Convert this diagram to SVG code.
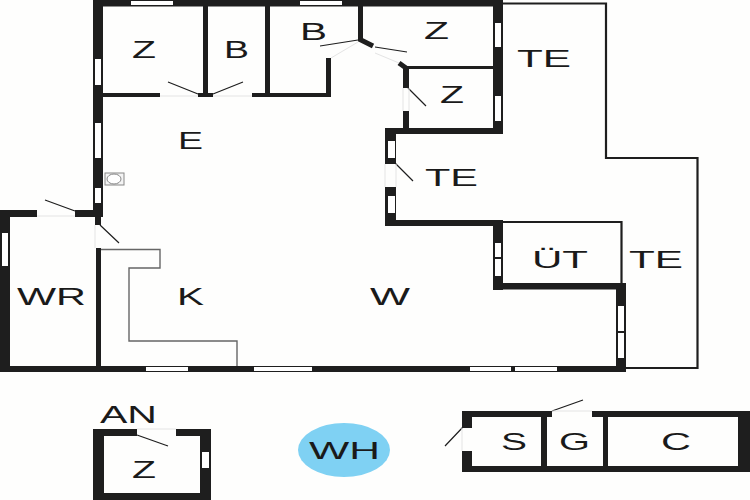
<svg xmlns="http://www.w3.org/2000/svg" width="750" height="500" viewBox="0 0 750 500">
<style>
.w{fill:#1e1e1e}
.g{fill:#fff}
.d{fill:#fdfdfc}
.t{fill:none;stroke:#1e1e1e;stroke-width:2.200}
.c{fill:none;stroke:#666;stroke-width:1.400}
.s{fill:none;stroke:#1e1e1e;stroke-width:1.200}
.p{fill:none;stroke:#e4e4e4;stroke-width:1}
text{font-family:"Liberation Sans",Arial,sans-serif;font-size:24px;fill:#1a1a1a}
</style>
<rect width="750" height="500" fill="#fefefd"/>
<!-- terraces -->
<path class="t" d="M503 3.500H606V158H697.500V368H626"/>
<path class="t" d="M503 222H621.500V283"/>
<!-- main walls -->
<g>
<rect class="w" x="93" y="0" width="410" height="6.500"/>
<rect class="w" x="93" y="0" width="10" height="217"/>
<rect class="w" x="203" y="6" width="5" height="90"/>
<rect class="w" x="265" y="6" width="5" height="90"/>
<rect class="w" x="103" y="93" width="57" height="4"/>
<rect class="w" x="198" y="93" width="15" height="4"/>
<rect class="w" x="252" y="93" width="79" height="4"/>
<rect class="w" x="326" y="58" width="5" height="39"/>
<rect class="w" x="358" y="6" width="5" height="35"/>
<path d="M359 39L373 46" stroke="#1e1e1e" stroke-width="5" fill="none"/>
<path d="M399 63L406 68" stroke="#1e1e1e" stroke-width="5" fill="none"/>
<rect class="w" x="493" y="0" width="10" height="134"/>
<rect class="w" x="405" y="66" width="88" height="3"/>
<rect class="w" x="403" y="66" width="6" height="22"/>
<rect class="w" x="403" y="111" width="6" height="18"/>
<rect class="w" x="385" y="128" width="118" height="6"/>
<rect class="w" x="385" y="128" width="11" height="36"/>
<rect class="w" x="385" y="187" width="11" height="39"/>
<rect class="w" x="385" y="220" width="118" height="6"/>
<rect class="w" x="493" y="220" width="10" height="70"/>
<rect class="w" x="493" y="283" width="133" height="6.500"/>
<rect class="w" x="616" y="283" width="10" height="89"/>
<rect class="w" x="0" y="366" width="626" height="6"/>
<rect class="w" x="0" y="210" width="37" height="7"/>
<rect class="w" x="75" y="210" width="28" height="7"/>
<rect class="w" x="0" y="210" width="10" height="162"/>
<rect class="w" x="95" y="215" width="6" height="10"/>
<rect class="w" x="96" y="248" width="5" height="120"/>
</g>
<!-- windows -->
<g>
<rect class="g" x="131" y="1" width="42" height="4"/>
<rect class="g" x="300" y="1" width="42" height="4"/>
<rect class="g" x="95" y="59" width="6" height="26"/>
<rect class="g" x="95" y="123" width="6" height="35"/>
<rect class="g" x="95" y="188" width="6" height="15"/>
<rect class="g" x="495" y="23" width="6" height="24"/>
<rect class="g" x="495" y="96" width="6" height="25"/>
<rect class="g" x="388" y="141" width="7" height="17"/>
<rect class="g" x="388" y="196" width="7" height="17"/>
<rect class="g" x="495" y="243" width="6" height="14"/>
<rect class="g" x="495" y="259" width="6" height="17"/>
<rect class="g" x="618" y="306" width="6" height="25"/>
<rect class="g" x="618" y="333" width="6" height="25"/>
<rect class="g" x="146" y="367" width="42" height="4"/>
<rect class="g" x="254" y="367" width="58" height="4"/>
<rect class="g" x="470" y="367" width="41" height="4"/>
<rect class="g" x="515" y="367" width="42" height="4"/>
<rect class="g" x="2" y="233" width="6" height="33"/>
</g>
<!-- door swings -->
<path class="s" d="M198 94L168 82M213 94L243 82M320 46L358 40M375 47L407 52M408 88L426 106M395 163L413 181M75 211L45 200M100 225L119 243"/>
<path class="p" d="M160 96H198M213 96H252M331 58L358 42M375 53L399 63M403 88V111M409 88V111M385 164V187M396 164V187M37 216H75M95 225V248"/>
<!-- counter and stove -->
<path class="c" d="M101 249.500H160V268H129V341H237V366"/>
<g id="stove">
<rect x="105" y="173" width="19" height="12" fill="#f4f4f4" stroke="#888"/>
<ellipse cx="114" cy="179" rx="7" ry="5" fill="#fff" stroke="#888"/>
</g>
<!-- annex -->
<path class="w" fill-rule="evenodd" d="M93 429H137V436H104V493H200V436H176V429H211V500H93Z"/>
<rect class="g" x="202" y="452" width="7" height="16"/>
<path class="s" d="M137 435L168 446"/>
<path class="p" d="M137 429H176"/>
<!-- storage -->
<path class="w" fill-rule="evenodd" d="M462 411H552V417H472V428H462ZM592 411H750V472H462V451H472V466H541V417H547V466H603V417H608V466H738V417H592Z"/>
<path class="s" d="M463 427L445 446M552 411L583 400"/>
<path class="p" d="M552 411H592M462 428V451"/>
<ellipse cx="344" cy="450" rx="46" ry="27" fill="#7fd1f3"/>
<!-- labels -->
<g>
<text x="132" y="58" textLength="24" lengthAdjust="spacingAndGlyphs">Z</text>
<text x="224" y="58" textLength="25" lengthAdjust="spacingAndGlyphs">B</text>
<text x="300" y="40" textLength="27" lengthAdjust="spacingAndGlyphs">B</text>
<text x="424" y="39" textLength="25" lengthAdjust="spacingAndGlyphs">Z</text>
<text x="517" y="67" textLength="54" lengthAdjust="spacingAndGlyphs">TE</text>
<text x="440" y="103" textLength="24" lengthAdjust="spacingAndGlyphs">Z</text>
<text x="178" y="149" textLength="25" lengthAdjust="spacingAndGlyphs">E</text>
<text x="425" y="186" textLength="53" lengthAdjust="spacingAndGlyphs">TE</text>
<text x="629" y="268" textLength="54" lengthAdjust="spacingAndGlyphs">TE</text>
<text x="532" y="268" textLength="56" lengthAdjust="spacingAndGlyphs">ÜT</text>
<text x="17" y="305" textLength="69" lengthAdjust="spacingAndGlyphs">WR</text>
<text x="177" y="305" textLength="27" lengthAdjust="spacingAndGlyphs">K</text>
<text x="370" y="305" textLength="40" lengthAdjust="spacingAndGlyphs">W</text>
<text x="100" y="423" textLength="57" lengthAdjust="spacingAndGlyphs">AN</text>
<text x="132" y="478" textLength="24" lengthAdjust="spacingAndGlyphs">Z</text>
<text x="309" y="459" textLength="71" lengthAdjust="spacingAndGlyphs">WH</text>
<text x="501" y="450" textLength="26" lengthAdjust="spacingAndGlyphs">S</text>
<text x="559" y="450" textLength="31" lengthAdjust="spacingAndGlyphs">G</text>
<text x="661" y="450" textLength="30" lengthAdjust="spacingAndGlyphs">C</text>
</g>
</svg>
